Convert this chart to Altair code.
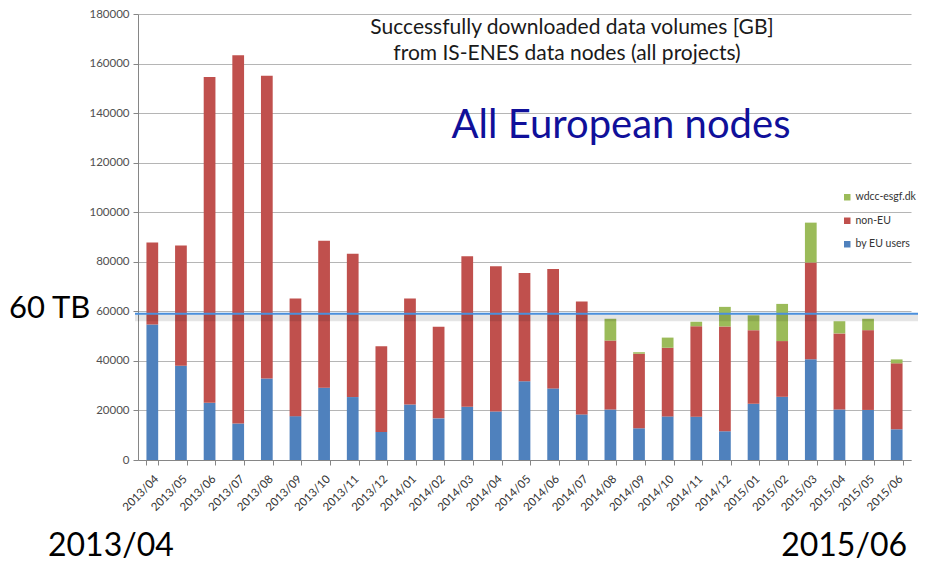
import altair as alt
import pandas as pd

# ---------------- data ----------------
months = ["2013/04", "2013/05", "2013/06", "2013/07", "2013/08", "2013/09", "2013/10",
          "2013/11", "2013/12", "2014/01", "2014/02", "2014/03", "2014/04", "2014/05",
          "2014/06", "2014/07", "2014/08", "2014/09", "2014/10", "2014/11", "2014/12",
          "2015/01", "2015/02", "2015/03", "2015/04", "2015/05", "2015/06"]
eu_users = [54700, 38000, 23100, 14700, 32900, 17700, 29200, 25400, 11300, 22400, 16800,
            21500, 19600, 31800, 28900, 18400, 20400, 12800, 17600, 17500, 11600, 22700,
            25500, 40700, 20400, 20200, 12400]
non_eu = [33100, 48600, 131500, 148700, 122200, 47500, 59300, 57800, 34600, 42800, 37000,
          60700, 58600, 43700, 48200, 45600, 27800, 30100, 27700, 36500, 42300, 29700,
          22500, 39000, 30700, 32200, 26600]
wdcc = [0, 0, 0, 0, 0, 0, 0, 0, 0, 0, 0, 0, 0, 0, 0, 0,
        8800, 600, 4100, 1800, 7900, 6000, 15000, 16100, 4900, 4600, 1600]
series_names = ["by EU users", "non-EU", "wdcc-esgf.dk"]
series_colors = ["#4f81bd", "#c0504d", "#9bbb59"]
y_ticks = [0, 20000, 40000, 60000, 80000, 100000, 120000, 140000, 160000, 180000]
threshold_gb = [59000]
title_lines = ["Successfully downloaded data volumes [GB]",
               "from IS-ENES data nodes (all projects)"]
big_label = ["All European nodes"]
threshold_label = ["60 TB"]

rows = []
for i, m in enumerate(months):
    for k, vals in enumerate([eu_users, non_eu, wdcc]):
        if vals[i] > 0:
            rows.append({"month": m, "series": series_names[k], "gb": vals[i], "k": k})
df = pd.DataFrame(rows)

W, H = 773, 446
PAD_R = 7
FONT = "Lato"
AXIS_GREY = "#868686"

x = alt.X("month:N", sort=months,
          scale=alt.Scale(paddingInner=0.59, paddingOuter=0.295),
          axis=alt.Axis(title=None, labelAngle=-45, labelFontSize=11.5, labelFont=FONT,
                        labelColor="#333333", tickBand="extent", tickSize=5,
                        tickColor=AXIS_GREY, domainColor=AXIS_GREY, labelPadding=8))
y = alt.Y("gb:Q", stack="zero",
          scale=alt.Scale(domain=[0, 180000], nice=False),
          axis=alt.Axis(title=None, values=y_ticks, format="d", labelFontSize=11.5,
                        labelFont=FONT, labelColor="#505050", tickSize=5,
                        tickColor=AXIS_GREY, domainColor=AXIS_GREY,
                        gridColor="#b5b5b5", labelPadding=4))
color = alt.Color("series:N",
                  scale=alt.Scale(domain=series_names[::-1], range=series_colors[::-1]),
                  legend=alt.Legend(title=None, orient="none", legendX=704, legendY=178,
                                    symbolType="square", symbolSize=42,
                                    symbolStrokeWidth=0, labelFontSize=10.5,
                                    labelFont=FONT, labelColor="#333333",
                                    rowPadding=12.5, padding=0, labelOffset=3))

bars = alt.Chart(df).mark_bar().encode(
    x=x, y=y, color=color, order=alt.Order("k:Q", sort="ascending"))

line_df = pd.DataFrame({"gb": threshold_gb})
shadow = alt.Chart(line_df).mark_rule(color="#000000", opacity=0.10, strokeWidth=7,
                                      yOffset=4).encode(
    y="gb:Q", x=alt.value(-3), x2=alt.value(W + PAD_R))
line = alt.Chart(line_df).mark_rule(color="#4a8fdc", strokeWidth=2).encode(
    y="gb:Q", x=alt.value(-3), x2=alt.value(W + PAD_R))


def label(texts, px, py, size, color="#1a1a1a", align="center"):
    return alt.Chart(pd.DataFrame({"t": texts})).mark_text(
        font=FONT, fontSize=size, color=color, align=align, baseline="alphabetic"
    ).encode(text="t:N", x=alt.value(px), y=alt.value(py))


t1 = label([title_lines[0]], 434, 20, 21)
t2 = label([title_lines[1]], 429, 46, 21)
t3 = label(big_label, 483, 124, 40, color="#10109a")
t4 = label(threshold_label, -129, 304, 31, color="#000000", align="left")
t5 = label([months[0]], -90, 542, 32, color="#000000", align="left")
t6 = label([months[-1]], 769, 542, 32, color="#000000", align="right")

chart = alt.layer(bars, shadow, line, t1, t2, t3, t4, t5, t6).properties(
    width=W, height=H,
    padding={"left": 130, "top": 6, "right": PAD_R, "bottom": 102},
    autosize=alt.AutoSizeParams(type="none"),
    background="white",
).configure_view(stroke=None)

chart.save("out.html", embed_options={"renderer": "svg", "actions": False})
